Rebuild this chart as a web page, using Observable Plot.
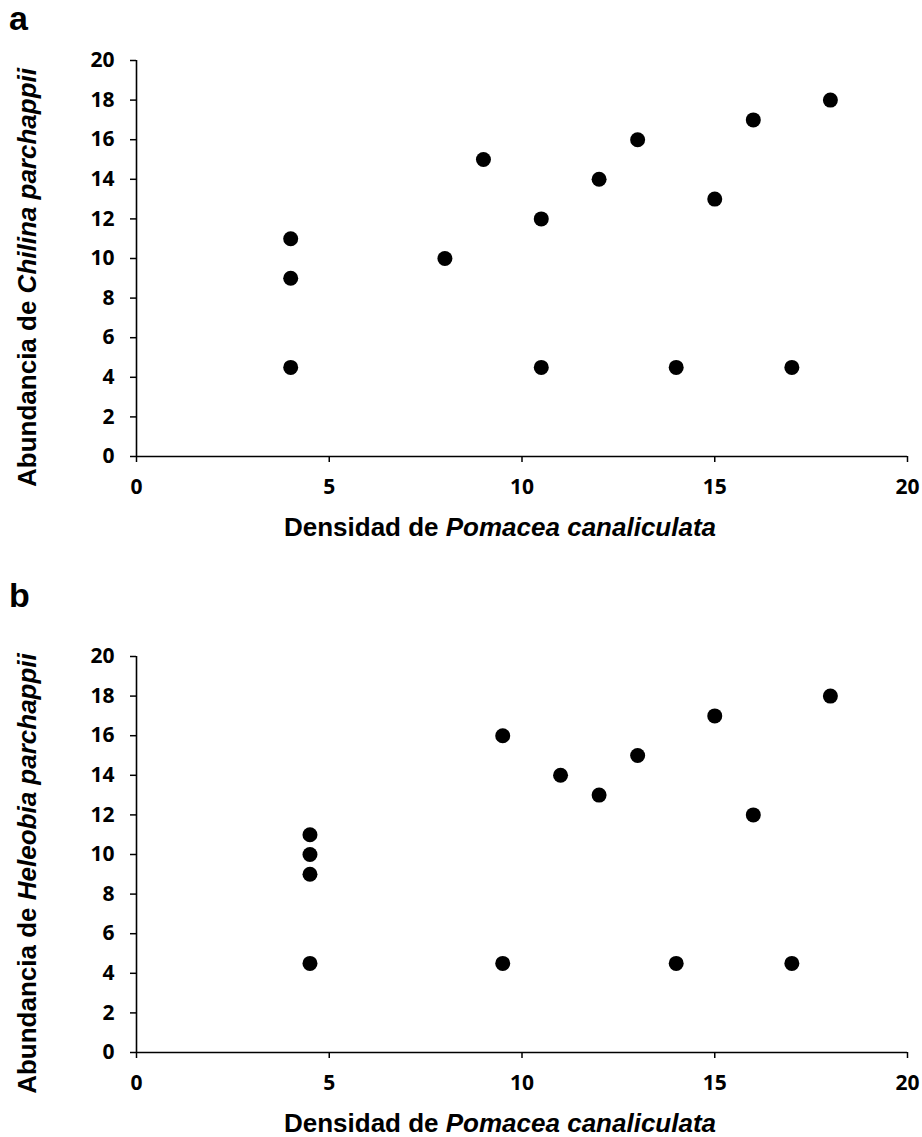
<!DOCTYPE html>
<html>
<head>
<meta charset="utf-8">
<script src="https://cdn.jsdelivr.net/npm/d3@7"></script>
<script src="https://cdn.jsdelivr.net/npm/@observablehq/plot@0.6"></script>
<style>
  html, body { margin: 0; padding: 0; background: #fff; }
  #wrap { position: relative; width: 922px; height: 1137px; overflow: hidden; }
  #wrap > div { position: absolute; left: 0; }
</style>
</head>
<body>
<div id="wrap"><div id="pa"></div><div id="pb"></div></div>
<script>
// Panel a: Chilina parchappii
const chilinaX = [4, 4, 4, 8, 9, 10.5, 10.5, 12, 13, 14, 15, 16, 17, 18];
const chilinaY = [11, 9, 4.5, 10, 15, 12, 4.5, 14, 16, 4.5, 13, 17, 4.5, 18];
// Panel b: Heleobia parchappii
const heleobiaX = [4.5, 4.5, 4.5, 4.5, 9.5, 9.5, 11, 12, 13, 14, 15, 16, 17, 18];
const heleobiaY = [11, 10, 9, 4.5, 16, 4.5, 14, 13, 15, 4.5, 17, 12, 4.5, 18];
// Ticks
const xTicks = [0, 5, 10, 15, 20];
const yTicks = [0, 2, 4, 6, 8, 10, 12, 14, 16, 18, 20];
const xTitle = ["Densidad de ", "Pomacea canaliculata"];
const panels = [
  {id: "pa", top: 0, letter: "a", xs: chilinaX, ys: chilinaY, yTitle: ["Abundancia de ", "Chilina parchappii"]},
  {id: "pb", top: 560, letter: "b", xs: heleobiaX, ys: heleobiaY, yTitle: ["Abundancia de ", "Heleobia parchappii"]}
];

for (const p of panels) {
  const data = p.xs.map((x, i) => ({x, y: p.ys[i]}));
  const marginTop = 60 + (p.top ? 36 : 0);
  const height = p.top ? 577 : 540;
  const marginBottom = p.top ? 85 : 84;
  const chart = Plot.plot({
    width: 922,
    height,
    marginLeft: 136,
    marginRight: 15,
    marginTop,
    marginBottom,
    style: {fontFamily: "'Open Sans', sans-serif", fontSize: "21px", fontWeight: 700, color: "#000", background: "#fff", overflow: "visible"},
    x: {domain: [0, 20]},
    y: {domain: [0, 20]},
    marks: [
      Plot.axisX({ticks: xTicks, tickSize: 6, tickPadding: 17, label: null, strokeWidth: 1.5, fontSize: 21, fontWeight: 700, tickFormat: d => String(d)}),
      Plot.axisY({ticks: yTicks, tickSize: 6, tickPadding: 16, label: null, strokeWidth: 1.5, fontSize: 21, fontWeight: 700, tickFormat: d => String(d)}),
      Plot.ruleY([0], {stroke: "#000", strokeWidth: 1.6}),
      Plot.ruleX([0], {stroke: "#000", strokeWidth: 1.6}),
      Plot.dot(data, {x: "x", y: "y", r: 7.5, fill: "#000", stroke: "none"})
    ]
  });
  const off = p.top ? 36 : 0;
  const svg = d3.select(chart);
  const tf = "'Liberation Sans', Arial, sans-serif";
  // panel letter
  svg.append("text").attr("x", 9).attr("y", 30 + (p.top ? 17 : 0)).attr("text-anchor", "start")
    .attr("font-family", tf).attr("font-size", 34).attr("font-weight", 700).attr("fill", "#000")
    .text(p.letter);
  // x title
  const xt = svg.append("text").attr("x", 500).attr("y", 536 + off).attr("text-anchor", "middle")
    .attr("font-family", tf).attr("font-size", 26).attr("font-weight", 700).attr("fill", "#000");
  xt.append("tspan").text(xTitle[0]);
  xt.append("tspan").attr("font-style", "italic").text(xTitle[1]);
  // y title
  const yt = svg.append("text").attr("transform", `translate(36,${277.5 + off}) rotate(-90)`).attr("text-anchor", "middle")
    .attr("font-family", tf).attr("font-size", 26).attr("font-weight", 700).attr("fill", "#000");
  yt.append("tspan").text(p.yTitle[0]);
  yt.append("tspan").attr("font-style", "italic").text(p.yTitle[1]);
  const holder = document.getElementById(p.id);
  holder.style.top = p.top + "px";
  holder.appendChild(chart);
}
</script>
</body>
</html>
